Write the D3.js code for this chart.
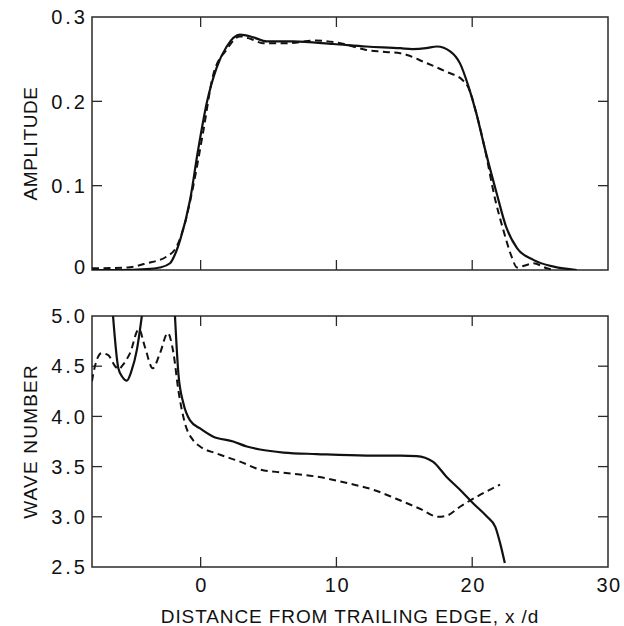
<!DOCTYPE html>
<html><head><meta charset="utf-8">
<script src="https://cdn.jsdelivr.net/npm/d3@7"></script>
<style>
html,body{margin:0;padding:0;background:#fff;}
text{font-family:"Liberation Sans",Arial,Helvetica,sans-serif;fill:#111;}
</style></head>
<body><svg id="c" width="624" height="626"></svg>
<script>
// ---- data ----
const xTicks = [0, 10, 20, 30];
const ampTicks = [0, 0.1, 0.2, 0.3];
const ampTickLabels = ["0", "0.1", "0.2", "0.3"];
const waveTicks = [2.5, 3.0, 3.5, 4.0, 4.5, 5.0];
const waveTickLabels = ["2.5", "3.0", "3.5", "4.0", "4.5", "5.0"];

const ampSolidX = [-8, -6, -4, -3, -2.25, -1.9, -1.5, -0.78, -0.19, 0.45, 1.18, 1.92, 2.9, 3.86, 4.87, 6.8, 9.77, 12.2, 14.7, 15.6, 16.6, 17.4, 18.4, 19.1, 19.7, 20.3, 20.9, 21.8, 22.5, 23.3, 24.5, 26, 27.7];
const ampSolidY = [0, 0, 0.001, 0.003, 0.008, 0.018, 0.036, 0.083, 0.142, 0.198, 0.240, 0.265, 0.279, 0.276, 0.271, 0.271, 0.268, 0.265, 0.263, 0.262, 0.263, 0.265, 0.259, 0.245, 0.219, 0.186, 0.146, 0.091, 0.051, 0.026, 0.012, 0.004, 0];

const ampDashX = [-8, -5.4, -3.97, -2.5, -1.76, -1.15, -0.55, 0.2, 0.92, 1.9, 2.9, 3.7, 4.6, 6.3, 8.5, 10.3, 12.2, 13.2, 14.7, 15.2, 16.4, 18.1, 19.3, 19.7, 20.3, 20.9, 21.7, 22.3, 22.9, 23.3, 24.0, 24.5, 25.5, 26];
const ampDashY = [0.002, 0.003, 0.008, 0.016, 0.028, 0.056, 0.099, 0.165, 0.231, 0.261, 0.277, 0.274, 0.269, 0.269, 0.272, 0.269, 0.261, 0.259, 0.257, 0.255, 0.247, 0.235, 0.225, 0.217, 0.186, 0.146, 0.083, 0.047, 0.016, 0.003, 0.006, 0.008, 0.002, 0];

const waveSolidAX = [-6.45, -6.06, -5.75, -5.44, -5.1, -4.7, -4.33];
const waveSolidAY = [5.0, 4.48, 4.39, 4.356, 4.45, 4.66, 5.0];

const waveSolidBX = [-1.89, -1.64, -1.27, -0.78, -0.04, 0.9, 2.4, 3.4, 4.37, 6.1, 8.55, 12.2, 14.7, 15.9, 17.1, 18.1, 19.1, 20.1, 21.1, 21.7, 22.05, 22.4];
const waveSolidBY = [5.0, 4.43, 4.13, 3.96, 3.88, 3.80, 3.75, 3.70, 3.67, 3.64, 3.625, 3.61, 3.61, 3.605, 3.55, 3.40, 3.27, 3.13, 3.0, 2.90, 2.74, 2.54];

const waveDashX = [-8, -7.9, -7.3, -6.8, -6.3, -6.0, -5.8, -5.2, -4.55, -4.1, -3.53, -2.99, -2.42, -2.0, -1.64, -1.15, -0.54, -0.04, 1.18, 2.9, 4.37, 6.1, 8.55, 11.0, 12.7, 14.4, 16.15, 17.5, 18.1, 19.1, 20.6, 22.05];
const waveDashY = [4.35, 4.43, 4.63, 4.61, 4.50, 4.47, 4.50, 4.63, 4.87, 4.69, 4.48, 4.63, 4.83, 4.63, 4.26, 3.93, 3.76, 3.70, 3.63, 3.55, 3.47, 3.44, 3.40, 3.33, 3.27, 3.18, 3.08, 3.0, 3.01, 3.10, 3.22, 3.32];

// ---- drawing ----
const svg = d3.select("#c");
const x = d3.scaleLinear().domain([-8, 30]).range([92, 608]);
const yA = d3.scaleLinear().domain([0, 0.3]).range([270, 17]);
const yW = d3.scaleLinear().domain([2.5, 5.0]).range([567, 316]);
const zip = (a, b) => a.map((v, i) => [v, b[i]]);
const tickLen = 10;
const frameColor = "#2a2a2a";

function panel(y, yt, ytl, id) {
  const g = svg.append("g");
  const [y0, y1] = y.range();
  const [x0, x1] = x.range();
  g.append("clipPath").attr("id", id).append("rect")
    .attr("x", x0).attr("y", y1).attr("width", x1 - x0).attr("height", y0 - y1);
  const inner = xTicks.filter(t => t > -8 && t < 30);
  const innerY = yt.filter(t => t > y.domain()[0] && t < y.domain()[1]);
  g.selectAll(".xb").data(inner).join("line")
    .attr("x1", d => x(d)).attr("x2", d => x(d)).attr("y1", y0).attr("y2", y0 - tickLen)
    .attr("stroke", frameColor).attr("stroke-width", 1.3);
  g.selectAll(".xt").data(inner).join("line").attr("class", "xt")
    .attr("x1", d => x(d)).attr("x2", d => x(d)).attr("y1", y1).attr("y2", y1 + tickLen)
    .attr("stroke", frameColor).attr("stroke-width", 1.3);
  g.selectAll(".yl").data(innerY).join("line").attr("class", "yl")
    .attr("x1", x0).attr("x2", x0 + tickLen).attr("y1", d => y(d)).attr("y2", d => y(d))
    .attr("stroke", frameColor).attr("stroke-width", 1.3);
  g.selectAll(".yr").data(innerY).join("line").attr("class", "yr")
    .attr("x1", x1).attr("x2", x1 - tickLen).attr("y1", d => y(d)).attr("y2", d => y(d))
    .attr("stroke", frameColor).attr("stroke-width", 1.3);
  g.append("rect").attr("x", x0).attr("y", y1).attr("width", x1 - x0).attr("height", y0 - y1)
    .attr("fill", "none").attr("stroke", frameColor).attr("stroke-width", 1.5);
  g.selectAll(".ytl").data(yt).join("text").attr("class", "ytl")
    .attr("x", 88).attr("y", d => y(d) - (d === 0 ? 3 : 0)).attr("dy", "0.36em")
    .attr("text-anchor", "end").attr("font-size", 20).style("letter-spacing", "3px")
    .text((d, i) => ytl[i]);
  return g;
}

const gA = panel(yA, ampTicks, ampTickLabels, "clipA");
const gW = panel(yW, waveTicks, waveTickLabels, "clipW");

const lineA = d3.line().x(d => x(d[0])).y(d => yA(d[1])).curve(d3.curveMonotoneX);
const lineW = d3.line().x(d => x(d[0])).y(d => yW(d[1])).curve(d3.curveMonotoneX);

gA.append("path").attr("d", lineA(zip(ampDashX, ampDashY))).attr("clip-path", "url(#clipA)")
  .attr("fill", "none").attr("stroke", "#111").attr("stroke-width", 2).attr("stroke-dasharray", "7,4.5");
gA.append("path").attr("d", lineA(zip(ampSolidX, ampSolidY))).attr("clip-path", "url(#clipA)")
  .attr("fill", "none").attr("stroke", "#111").attr("stroke-width", 2.2);

gW.append("path").attr("d", lineW(zip(waveDashX, waveDashY))).attr("clip-path", "url(#clipW)")
  .attr("fill", "none").attr("stroke", "#111").attr("stroke-width", 2).attr("stroke-dasharray", "7,4.5");
gW.append("path").attr("d", lineW(zip(waveSolidAX, waveSolidAY))).attr("clip-path", "url(#clipW)")
  .attr("fill", "none").attr("stroke", "#111").attr("stroke-width", 2.2);
gW.append("path").attr("d", lineW(zip(waveSolidBX, waveSolidBY))).attr("clip-path", "url(#clipW)")
  .attr("fill", "none").attr("stroke", "#111").attr("stroke-width", 2.2);

svg.selectAll(".xtl").data(xTicks).join("text").attr("class", "xtl")
  .attr("x", d => x(d) + 1).attr("y", 592).attr("text-anchor", "middle")
  .attr("font-size", 20).style("letter-spacing", "1.5px").text(d => d);

svg.append("text").attr("x", 350).attr("y", 623).attr("text-anchor", "middle")
  .attr("font-size", 19).style("letter-spacing", "0.9px").text("DISTANCE FROM TRAILING EDGE, x /d");
svg.append("text").attr("transform", "translate(37," + ((yA.range()[0] + yA.range()[1]) / 2) + ") rotate(-90)")
  .attr("text-anchor", "middle").attr("font-size", 19).style("letter-spacing", "0.6px").text("AMPLITUDE");
svg.append("text").attr("transform", "translate(37," + ((yW.range()[0] + yW.range()[1]) / 2) + ") rotate(-90)")
  .attr("text-anchor", "middle").attr("font-size", 19).style("letter-spacing", "1.2px").text("WAVE NUMBER");
</script></body></html>
